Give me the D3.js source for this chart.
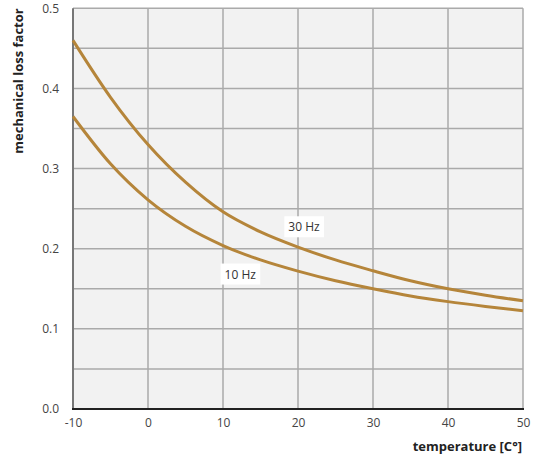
<!DOCTYPE html>
<html>
<head>
<meta charset="utf-8">
<script src="https://cdn.jsdelivr.net/npm/d3@7"></script>
<style>
  html, body { margin: 0; padding: 0; background: #fff; }
  svg { display: block; font-family: "Open Sans", sans-serif; }
</style>
</head>
<body>
<svg id="chart" width="537" height="461"></svg>
<script>
// Temperature axis (°C) and loss factor per frequency
const temperatures = [-10, -5, 0, 5, 10, 15, 20, 25, 30, 35, 40, 45, 50];
const loss30Hz = [0.460, 0.389, 0.330, 0.283, 0.246, 0.221, 0.202, 0.186, 0.1725, 0.160, 0.150, 0.142, 0.135];
const loss10Hz = [0.365, 0.306, 0.261, 0.228, 0.204, 0.186, 0.172, 0.160, 0.150, 0.141, 0.134, 0.128, 0.1225];
const xTicks = [-10, 0, 10, 20, 30, 40, 50];
const yTicks = [0.0, 0.1, 0.2, 0.3, 0.4, 0.5];
const yGrid = [0.05, 0.1, 0.15, 0.2, 0.25, 0.3, 0.35, 0.4, 0.45];
const seriesLabels = [
  { text: "30 Hz", t: 20.8, v: 0.227 },
  { text: "10 Hz", t: 12.3, v: 0.168 }
];

const margin = { left: 73, right: 14, top: 8.3, bottom: 52 };
const W = 537, H = 461;
const svg = d3.select("#chart");

const x = d3.scaleLinear().domain([-10, 50]).range([margin.left, W - margin.right]);
const y = d3.scaleLinear().domain([0, 0.5]).range([H - margin.bottom, margin.top]);

// plot background
svg.append("rect")
  .attr("x", x(-10)).attr("y", y(0.5))
  .attr("width", x(50) - x(-10)).attr("height", y(0) - y(0.5))
  .attr("fill", "#f2f2f2");

// grid
const grid = svg.append("g").attr("stroke", "#aaaaaa").attr("stroke-width", 1.5);
grid.selectAll("line.v").data(xTicks.slice(1)).join("line")
  .attr("x1", d => x(d)).attr("x2", d => x(d))
  .attr("y1", y(0.5)).attr("y2", y(0));
grid.selectAll("line.h").data(yGrid.concat([0.5])).join("line")
  .attr("x1", x(-10)).attr("x2", x(50))
  .attr("y1", d => y(d)).attr("y2", d => y(d));

// axes lines
svg.append("line")
  .attr("x1", x(-10)).attr("x2", x(-10))
  .attr("y1", y(0.5)).attr("y2", y(0))
  .attr("stroke", "#777").attr("stroke-width", 2);
svg.append("line")
  .attr("x1", x(-10) - 1).attr("x2", x(50) + 1)
  .attr("y1", y(0)).attr("y2", y(0))
  .attr("stroke", "#222").attr("stroke-width", 2);

// tick labels via d3 axes
const xAxis = svg.append("g")
  .attr("transform", `translate(0,${y(0)})`)
  .call(d3.axisBottom(x).tickValues(xTicks).tickSize(0).tickPadding(9).tickFormat(d => String(d)));
const yAxis = svg.append("g")
  .attr("transform", `translate(${x(-10)},0)`)
  .call(d3.axisLeft(y).tickValues(yTicks).tickSize(0).tickPadding(14).tickFormat(d3.format(".1f")));
[xAxis, yAxis].forEach(a => {
  a.select(".domain").remove();
  a.selectAll("text").attr("font-size", 12).attr("fill", "#444")
    .attr("font-family", "'Open Sans', sans-serif");
});

// curves
const line = d3.line().x(d => x(d[0])).y(d => y(d[1])).curve(d3.curveMonotoneX);
[loss30Hz, loss10Hz].forEach(vals => {
  svg.append("path")
    .datum(temperatures.map((t, i) => [t, vals[i]]))
    .attr("d", line)
    .attr("fill", "none")
    .attr("stroke", "#b5853a")
    .attr("stroke-width", 3)
    .attr("stroke-linecap", "butt");
});

// series labels with white boxes
seriesLabels.forEach(l => {
  const g = svg.append("g").attr("transform", `translate(${x(l.t)},${y(l.v)})`);
  const txt = g.append("text").text(l.text)
    .attr("text-anchor", "middle").attr("dy", "0.35em")
    .attr("font-size", 12).attr("fill", "#333");
  const bb = txt.node().getBBox();
  g.insert("rect", "text")
    .attr("x", bb.x - 4).attr("y", bb.y - 2)
    .attr("width", bb.width + 8).attr("height", bb.height + 4)
    .attr("fill", "#fff");
});

// axis titles
svg.append("text")
  .attr("x", x(50) - 1).attr("y", 451)
  .attr("text-anchor", "end")
  .attr("font-size", 13).attr("font-weight", "bold").attr("fill", "#222")
  .text("temperature [C°]");
svg.append("text")
  .attr("transform", `translate(23,${y(0.5)}) rotate(-90)`)
  .attr("text-anchor", "end")
  .attr("font-size", 13).attr("font-weight", "bold").attr("fill", "#222")
  .text("mechanical loss factor");
</script>
</body>
</html>
